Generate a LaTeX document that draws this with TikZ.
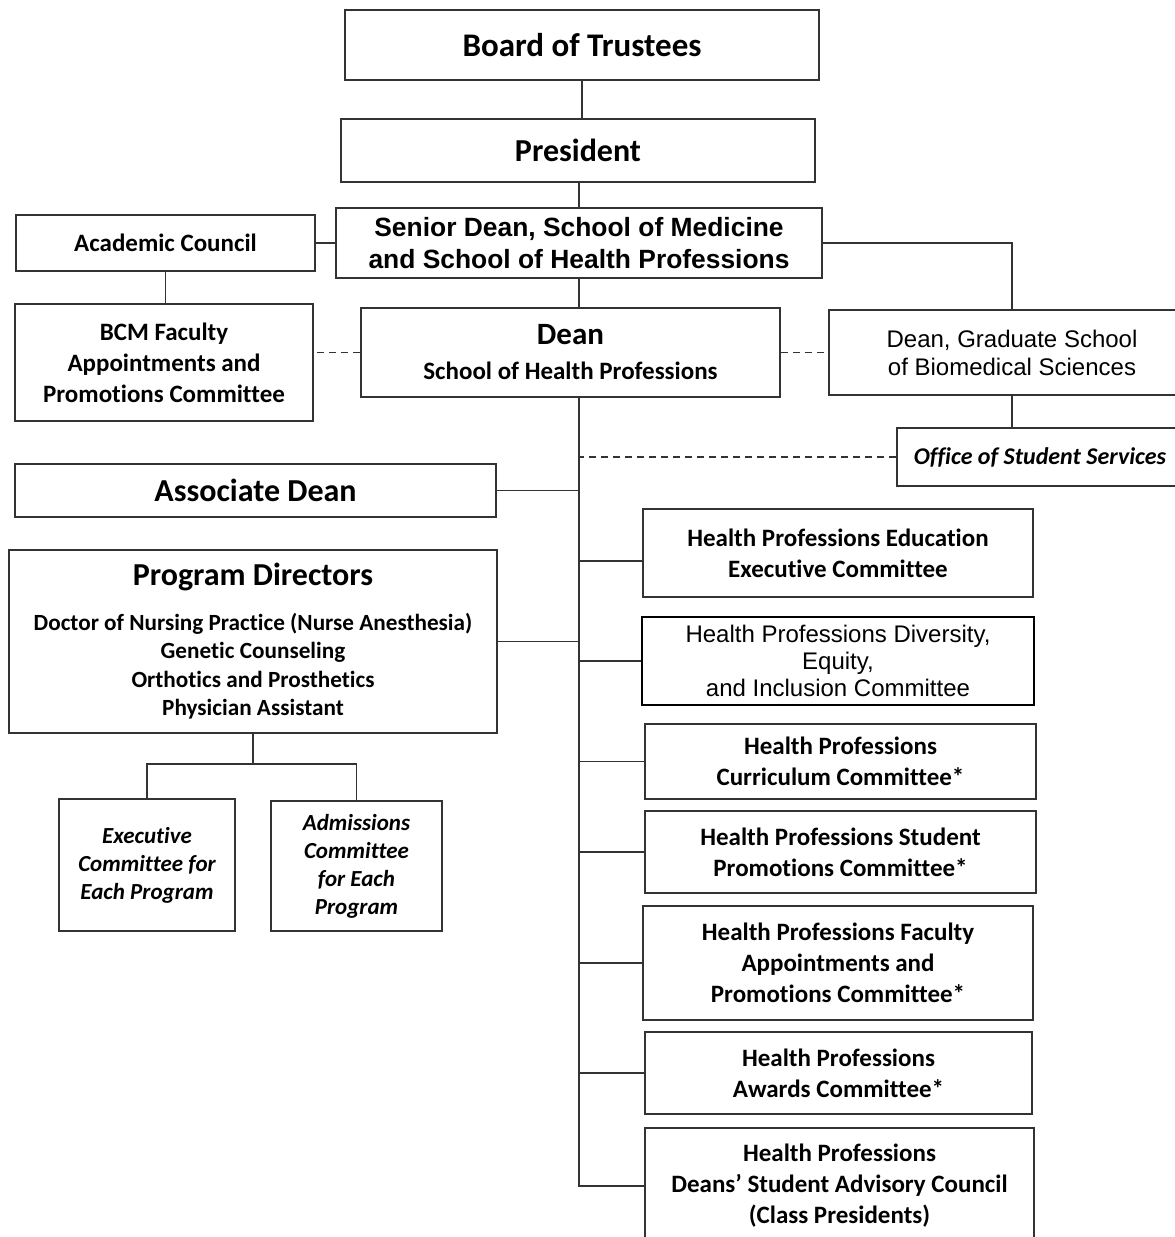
\documentclass[tikz,border=0pt]{standalone}
\usepackage{fontspec}
\setmainfont[Ligatures={NoCommon}]{Carlito}
\newfontfamily\arialfont{Liberation Sans}

\begin{document}
\begin{tikzpicture}[x=1pt, y=-1pt,
    box/.style={draw=black!80, line width=1.6pt, align=center, inner sep=2pt,
        font=\bfseries\fontsize{25}{31}\selectfont},
    boxsize/.style 2 args={minimum width=#1pt, minimum height=#2pt},
    conn/.style={draw=black!80, line width=1.6pt},
    dashline/.style={conn, dash pattern=on 7pt off 5pt}
]
    \useasboundingbox (0,0) rectangle (1175,1237);

    % top of the chart
    \node[box, boxsize={474}{70}, font=\bfseries\fontsize{33}{38}\selectfont] (bot) at (582,45) {Board of Trustees};
    \node[box, boxsize={474}{63}, font=\bfseries\fontsize{32}{38}\selectfont] (pres) at (578,150.5) {President};
    \node[box, boxsize={486}{70}, font=\arialfont\bfseries\fontsize{26.4}{32}\selectfont] (sdean) at (579,243)
        {Senior Dean, School of Medicine\\and School of Health Professions};

    \node[box, boxsize={299}{56}] (acad) at (165.5,243) {Academic Council};
    \node[box, boxsize={298}{117}] (bcm) at (164,362.5) {BCM Faculty\\Appointments and\\Promotions Committee};
    \node[box, boxsize={419}{89}] (dean) at (570.5,352.5)
        {{\fontsize{31}{36}\selectfont Dean}\\[4pt]School of Health Professions};
    \node[box, boxsize={366}{85}, font=\arialfont\fontsize{24}{28}\selectfont] (gsbs) at (1012,352.5)
        {Dean, Graduate School\\of Biomedical Sciences};
    \node[box, boxsize={286}{58}, font=\bfseries\itshape\fontsize{24}{28}\selectfont] (oss) at (1040,457)
        {Office of Student Services};

    % left column
    \node[box, boxsize={481}{53}, font=\bfseries\fontsize{32}{38}\selectfont] (assoc) at (255.5,490.5) {Associate Dean};
    \node[box, boxsize={488}{183}, font=\bfseries\fontsize{23.2}{28.5}\selectfont] (progdir) at (253,641.5)
        {{\fontsize{32}{38}\selectfont Program Directors}\\[16pt]
         Doctor of Nursing Practice (Nurse Anesthesia)\\Genetic Counseling\\
         Orthotics and Prosthetics\\Physician Assistant};
    \node[box, boxsize={176}{132}, font=\bfseries\itshape\fontsize{23}{28}\selectfont] (execc) at (147,865)
        {Executive\\Committee for\\Each Program};
    \node[box, boxsize={171}{130}, font=\bfseries\itshape\fontsize{23}{28}\selectfont] (admc) at (356.5,866)
        {Admissions\\Committee\\for Each\\Program};

    % committees
    \node[box, boxsize={390}{88}] (hpeec) at (838,553) {Health Professions Education\\Executive Committee};
    \node[box, boxsize={392}{88}, line width=2.6pt, draw=black, font=\arialfont\fontsize{24}{27}\selectfont] (dei) at (838,661)
        {Health Professions Diversity,\\Equity,\\and Inclusion Committee};
    \node[box, boxsize={391}{75}] (curr) at (840.5,761.5) {Health Professions\\Curriculum Committee*};
    \node[box, boxsize={391}{82}] (promo) at (840.5,852) {Health Professions Student\\Promotions Committee*};
    \node[box, boxsize={390}{114}] (fac) at (838,963) {Health Professions Faculty\\Appointments and\\Promotions Committee*};
    \node[box, boxsize={387}{82}] (award) at (838.5,1073) {Health Professions\\Awards Committee*};
    \node[box, boxsize={389}{116}] (dsac) at (839.5,1186)
        {Health Professions\\Deans' Student Advisory Council\\(Class Presidents)};

    % connectors
    \draw[conn] (bot) -- (bot |- pres.north);
    \draw[conn] (pres.south) -- (pres.south -| sdean) -- (sdean.north);
    \draw[conn] (sdean) -- (dean.north -| sdean);
    \draw[conn] (sdean.west) -- (sdean.west -| acad.east);
    \draw[conn] (acad) -- (acad |- bcm.north);
    \draw[conn] (sdean.east) -| (gsbs.north);
    \draw[conn] (gsbs.south) -- (gsbs.south |- oss.north);
    \draw[dashline] (dean.west) -- (dean.west -| bcm.east);
    \draw[dashline] (dean.east) -- (dean.east -| gsbs.west);

    % trunk below the dean
    \draw[conn] (dean.south -| sdean) -- (dsac.west -| sdean) -- (dsac.west);
    \draw[dashline] (oss.west) -- (oss.west -| sdean);
    \draw[conn] (assoc.east) -- (assoc.east -| sdean);
    \draw[conn] (progdir.east) -- (progdir.east -| sdean);
    \draw[conn] ([yshift=-8pt]hpeec.west) -- ([yshift=-8pt]hpeec.west -| sdean);
    \foreach \c in {dei, curr, promo, fac, award}
        \draw[conn] (\c.west) -- (\c.west -| sdean);

    \draw[conn] (progdir.south) -- ++(0,30) coordinate (pdsplit);
    \draw[conn] (execc.north) |- (pdsplit) -| (admc.north);
\end{tikzpicture}
\end{document}
